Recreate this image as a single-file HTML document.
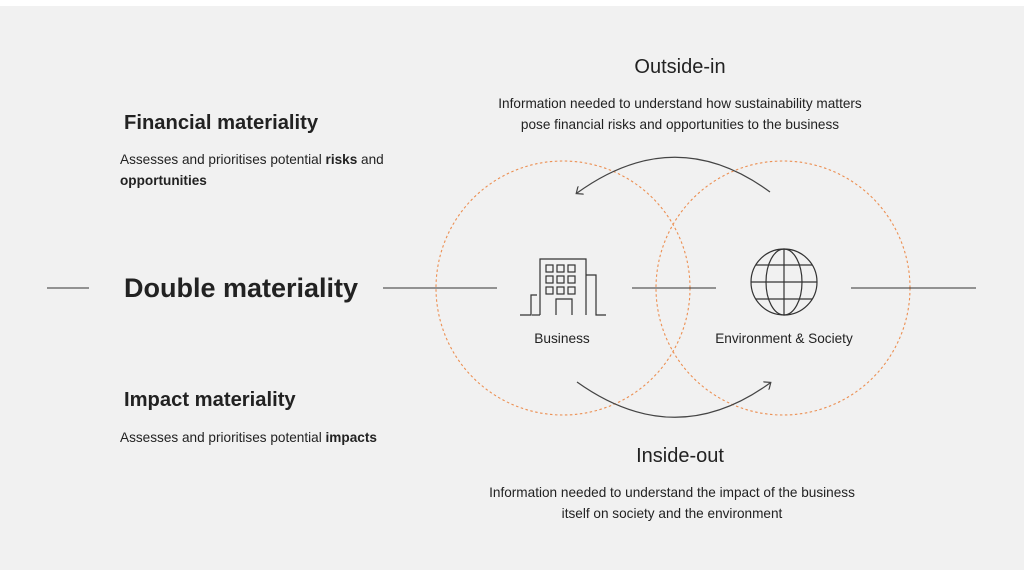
<!DOCTYPE html>
<html><head><style>
html,body{margin:0;padding:0;background:#fff;}
svg{display:block;font-family:"Liberation Sans",Arial,sans-serif;}
</style></head><body>
<svg width="1024" height="576" viewBox="0 0 1024 576" xmlns="http://www.w3.org/2000/svg">
<defs>
<marker id="ah" markerWidth="10" markerHeight="10" refX="5" refY="5" orient="auto" markerUnits="userSpaceOnUse">
<path d="M0,0 L6,5 L0,10" fill="none" stroke="#444" stroke-width="1.2"/>
</marker>
</defs>
<rect x="0" y="6" width="1024" height="564" fill="#f1f1f1"/>
<circle cx="563" cy="288" r="127" fill="none" stroke="#ec8f52" stroke-width="1.1" stroke-dasharray="2.5,2.5"/>
<circle cx="783" cy="288" r="127" fill="none" stroke="#ec8f52" stroke-width="1.1" stroke-dasharray="2.5,2.5"/>
<g stroke="#333" stroke-width="1">
<line x1="47" y1="288" x2="89" y2="288"/>
<line x1="383" y1="288" x2="497" y2="288"/>
<line x1="632" y1="288" x2="716" y2="288"/>
<line x1="851" y1="288" x2="976" y2="288"/>
</g>
<path d="M770,192 Q675,122 577,193" fill="none" stroke="#444" stroke-width="1.2" marker-end="url(#ah)"/>
<path d="M577,382 Q675,452 770,383" fill="none" stroke="#444" stroke-width="1.2" marker-end="url(#ah)"/>
<g fill="none" stroke="#333" stroke-width="1.2">
<path d="M520,315 H531 V295 H537"/>
<path d="M540,315 V259 H586 V315"/>
<path d="M586,275 H596 V315 H606"/>
<path d="M540,315 H532"/>
<path d="M556,315 V299 H572 V315"/>
<rect x="546" y="265" width="7" height="7"/><rect x="557" y="265" width="7" height="7"/><rect x="568" y="265" width="7" height="7"/>
<rect x="546" y="276" width="7" height="7"/><rect x="557" y="276" width="7" height="7"/><rect x="568" y="276" width="7" height="7"/>
<rect x="546" y="287" width="7" height="7"/><rect x="557" y="287" width="7" height="7"/><rect x="568" y="287" width="7" height="7"/>
</g>
<g fill="none" stroke="#333" stroke-width="1.2">
<circle cx="784" cy="282" r="33"/>
<ellipse cx="784" cy="282" rx="18" ry="33"/>
<line x1="784" y1="249" x2="784" y2="315"/>
<line x1="751" y1="282" x2="817" y2="282"/>
<line x1="756" y1="265" x2="812" y2="265"/>
<line x1="756" y1="299" x2="812" y2="299"/>
</g>
<g fill="#222">
<text x="680" y="73" font-size="20" text-anchor="middle">Outside-in</text>
<text x="680" y="108" font-size="13.6" text-anchor="middle">Information needed to understand how sustainability matters</text>
<text x="680" y="129" font-size="13.6" text-anchor="middle">pose financial risks and opportunities to the business</text>
<text x="680" y="462" font-size="20" text-anchor="middle">Inside-out</text>
<text x="672" y="497" font-size="13.6" text-anchor="middle">Information needed to understand the impact of the business</text>
<text x="672" y="518" font-size="13.6" text-anchor="middle">itself on society and the environment</text>
<text x="562" y="343" font-size="13.7" text-anchor="middle">Business</text>
<text x="784" y="343" font-size="13.6" text-anchor="middle">Environment &amp; Society</text>
<text x="124" y="129" font-size="20.2" font-weight="bold">Financial materiality</text>
<text x="120" y="164" font-size="13.6">Assesses and prioritises potential <tspan font-weight="bold">risks</tspan> and</text>
<text x="120" y="185" font-size="13.6" font-weight="bold">opportunities</text>
<text x="124" y="297" font-size="27" font-weight="bold">Double materiality</text>
<text x="124" y="406" font-size="20.2" font-weight="bold">Impact materiality</text>
<text x="120" y="442" font-size="13.6">Assesses and prioritises potential <tspan font-weight="bold">impacts</tspan></text>
</g>
</svg>
</body></html>
